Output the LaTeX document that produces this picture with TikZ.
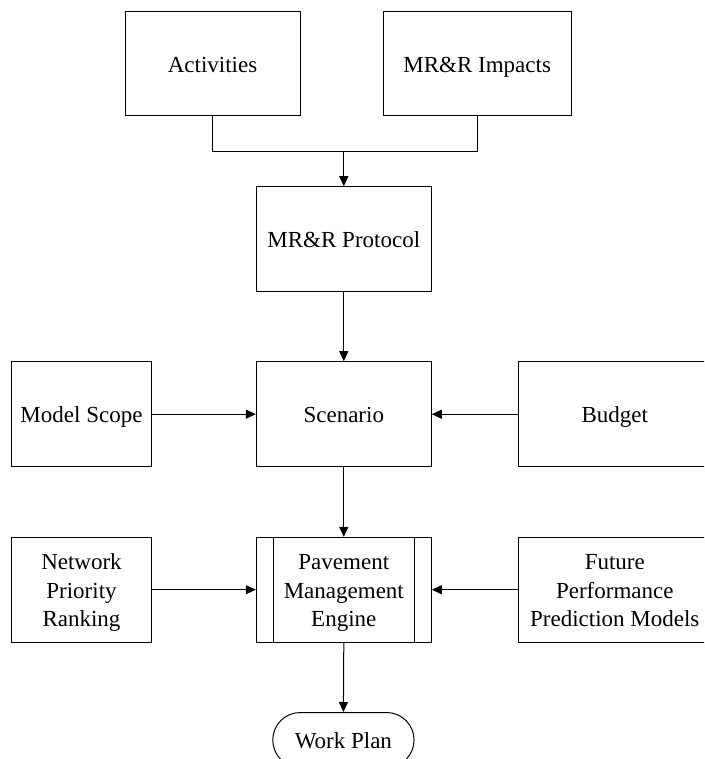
\documentclass[tikz,border=0pt]{standalone}
\usepackage{fontspec}
\setmainfont{Liberation Serif}
\usetikzlibrary{arrows.meta,shapes.misc}
% struts that give multi-line labels a fixed first-line height and last-line depth
\newcommand\firstlinestrut{\rule{0pt}{22pt}}
\newcommand\lastlinestrut{\rule[-5pt]{0pt}{5pt}}
\begin{document}
\begin{tikzpicture}[x=1pt,y=-1pt,
  lbl/.style={font=\fontsize{23}{28.3}\selectfont, align=center},
  one/.style={text height=18pt, text depth=1pt},
  blk/.style={lbl, draw, line width=1pt, inner sep=0pt},
  termbox/.style={lbl, one, draw, line width=1pt, inner sep=0pt, rounded rectangle},
  flow/.style={line width=1pt, -{Triangle[length=10pt,width=9pt]}},
  link/.style={line width=1pt}]
\useasboundingbox (0,0) rectangle (704,759);
\clip (0,0) rectangle (704,759);

% inputs to the protocol
\node[blk, one, minimum width=175pt, minimum height=104.3pt] (act) at (212.5,63.8) {Activities};
\node[blk, one, minimum width=188.3pt, minimum height=104.3pt] (imp) at (477.2,63.8) {MR\&R Impacts};
\node[blk, one, minimum width=175pt, minimum height=105pt] (prot) at (343.8,239.2) {MR\&R Protocol};

% scenario row
\node[blk, one, minimum width=139.6pt, minimum height=105pt] (scope) at (81.5,414.2) {Model Scope};
\node[blk, one, minimum width=175pt, minimum height=105pt] (scen) at (343.8,414.2) {Scenario};
\node[blk, one, minimum width=192.3pt, minimum height=105pt] (budget) at (614.8,414.2) {Budget};

% engine row
\node[blk, minimum width=139.6pt, minimum height=104.7pt] (net) at (81.5,589.7)
  {\firstlinestrut Network\\Priority\\Ranking\lastlinestrut};
\node[blk, minimum width=175pt, minimum height=104.7pt] (pme) at (343.8,589.7)
  {\firstlinestrut Pavement\\Management\\Engine\lastlinestrut};
\node[blk, minimum width=192.3pt, minimum height=104.7pt] (future) at (614.8,589.7)
  {\firstlinestrut Future\\Performance\\Prediction Models\lastlinestrut};
\draw[link] ([xshift=17.3pt]pme.north west) -- ([xshift=17.3pt]pme.south west);
\draw[link] ([xshift=-17.3pt]pme.north east) -- ([xshift=-17.3pt]pme.south east);

% output
\node[termbox, minimum width=141.3pt, minimum height=55pt] (work) at (343.4,740) {Work Plan};

% connectors
\coordinate (join) at (343.8,151.7);
\draw[link] (act.south) |- (join) -| (imp.south);
\draw[flow] (join) -- (prot.north);
\draw[flow] (prot.south) -- (scen.north);
\draw[flow] (scope.east) -- (scen.west);
\draw[flow] (budget.west) -- (scen.east);
\draw[flow] (scen.south) -- (pme.north);
\draw[flow] (net.east) -- (pme.west);
\draw[flow] (future.west) -- (pme.east);
\draw[flow] (pme.south) -- (work.north);
\end{tikzpicture}
\end{document}
